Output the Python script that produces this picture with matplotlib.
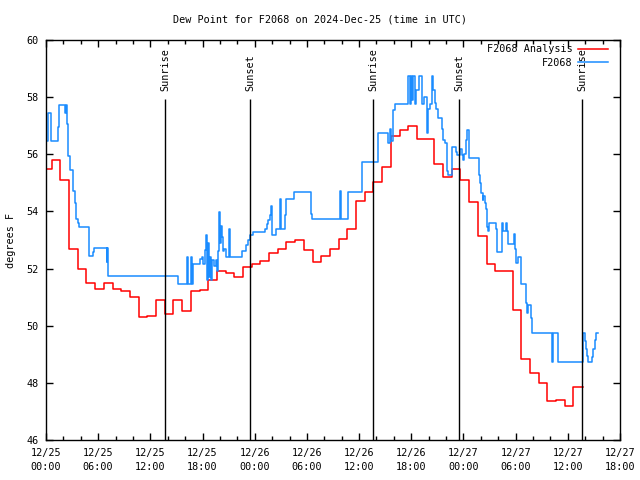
import numpy as np
import matplotlib
matplotlib.use("Agg")
import matplotlib.pyplot as plt
from matplotlib.ticker import MultipleLocator

# hours since 2024-12-25 00:00 UTC
title = "Dew Point for F2068 on 2024-Dec-25 (time in UTC)"
tick_hours = [0, 6, 12, 18, 24, 30, 36, 42, 48, 54, 60, 66]
tick_labels = ["12/25\n00:00", "12/25\n06:00", "12/25\n12:00", "12/25\n18:00",
               "12/26\n00:00", "12/26\n06:00", "12/26\n12:00", "12/26\n18:00",
               "12/27\n00:00", "12/27\n06:00", "12/27\n12:00", "12/27\n18:00"]

sun_hours = [13.68, 23.46, 37.6, 47.49, 61.63]
sun_names = ["Sunrise", "Sunset", "Sunrise", "Sunset", "Sunrise"]

# analysis: hourly values (step changes at hh:39)
ana_first = 0.65
ana_vals = [55.5, 55.8, 55.1, 52.7, 52.0, 51.5, 51.3, 51.5, 51.3, 51.2, 51.0,
            50.3, 50.33, 50.9, 50.4, 50.9, 50.5, 51.2, 51.25, 51.6, 51.9,
            51.85, 51.7, 52.05, 52.15, 52.25, 52.55, 52.7, 52.93, 53.0, 52.65,
            52.24, 52.43, 52.7, 53.05, 53.4, 54.36, 54.67, 55.04, 55.57, 56.64,
            56.85, 57.0, 56.53, 56.53, 55.66, 55.2, 55.47, 55.1, 54.33, 53.15,
            52.15, 51.9, 51.9, 50.54, 48.85, 48.35, 47.98, 47.37, 47.4, 47.19,
            47.84]
ana_end = 61.8

# station observations
obs_hours = [0.0, 0.23, 0.61, 1.35, 1.5, 2.18, 2.25, 2.45, 2.56, 2.72, 3.05,
             3.28, 3.45, 3.64, 3.83, 5.0, 5.4, 5.52, 6.98, 7.05, 7.13, 15.21,
             16.25, 16.35, 16.64, 16.75, 16.94, 17.71, 17.94, 18.09, 18.28,
             18.4, 18.5, 18.6, 18.7, 18.85, 19.0, 19.1, 19.3, 19.5, 19.7, 19.8,
             19.9, 20.0, 20.1, 20.2, 20.35, 20.5, 20.7, 21.05, 21.15, 22.5,
             22.99, 23.19, 23.46, 23.84, 25.18, 25.38, 25.57, 25.76, 25.9, 26.0,
             26.44, 26.9, 27.0, 27.48, 27.6, 28.52, 30.44, 30.55, 33.8, 33.92,
             34.78, 36.28, 38.21, 39.36, 39.5, 39.7, 39.92, 40.13, 41.66, 41.8,
             41.95, 42.1, 42.25, 42.45, 42.6, 42.85, 43.2, 43.5, 43.78, 43.9,
             44.2, 44.35, 44.55, 44.73, 44.9, 45.1, 45.5, 45.7, 45.9, 46.1,
             46.27, 46.68, 47.12, 47.27, 47.66, 47.85, 47.95, 48.05, 48.3, 48.4,
             48.66, 49.78, 49.9, 50.0, 50.2, 50.3, 50.42, 50.59, 50.67, 50.8,
             50.9, 51.06, 51.7, 51.89, 52.4, 52.59, 52.86, 52.97, 53.15, 53.81,
             53.93, 54.08, 54.24, 54.62, 55.19, 55.34, 55.46, 55.76, 55.84,
             58.15, 58.26, 58.85, 61.78, 61.92, 62.1, 62.25, 62.35, 62.82,
             62.95, 63.1, 63.25, 63.45]
obs_vals = [56.45, 57.45, 56.45, 56.94, 57.71, 57.45, 57.71, 57.05, 55.95,
            55.45, 54.73, 54.28, 53.73, 53.6, 53.45, 52.45, 52.59, 52.72, 52.24,
            52.72, 51.74, 51.45, 52.4, 51.45, 52.4, 51.45, 52.15, 52.35, 52.4,
            52.15, 52.65, 53.17, 51.6, 52.9, 51.7, 52.4, 51.6, 52.3, 52.1, 52.3,
            51.9, 52.6, 53.97, 52.9, 53.5, 53.1, 52.6, 52.7, 52.4, 53.38, 52.42,
            52.6, 52.83, 53.0, 53.17, 53.29, 53.38, 53.55, 53.7, 53.88, 54.2,
            53.17, 53.38, 54.42, 53.38, 53.88, 54.42, 54.69, 53.9, 53.72, 54.72,
            53.72, 54.69, 55.72, 56.73, 56.4, 56.9, 56.45, 57.55, 57.75, 58.74,
            57.75, 58.74, 57.9, 58.74, 57.75, 58.25, 58.74, 57.75, 58.0, 56.73,
            57.6, 57.75, 58.74, 58.25, 57.8, 57.6, 57.26, 56.9, 56.5, 56.38,
            55.4, 55.28, 56.27, 56.09, 55.97, 56.2, 55.97, 55.8, 56.0, 56.5,
            56.85, 55.86, 55.28, 55.0, 54.63, 54.4, 54.55, 54.28, 54.1, 53.47,
            53.3, 53.6, 53.58, 53.4, 52.59, 53.58, 53.3, 53.58, 53.3, 52.86,
            53.2, 52.7, 52.2, 52.42, 51.46, 50.78, 50.43, 50.72, 50.26, 49.73,
            48.72, 49.73, 48.72, 49.73, 49.45, 49.2, 48.95, 48.72, 48.9, 49.2,
            49.5, 49.73, 49.73]

plt.rcParams['font.family'] = ['DejaVu Sans Mono']
fs = 7.3

fig = plt.figure(figsize=(6.4, 4.8), dpi=100)
ax = fig.add_axes([46/640, 40/480, 574/640, 400/480])

ana_hours = [0.0] + list(ana_first + np.arange(len(ana_vals) - 1)) + [ana_end]
ax.plot(ana_hours, ana_vals + [ana_vals[-1]], drawstyle='steps-post',
        color='#ff0000', lw=1.1, label='F2068 Analysis')
ax.plot(obs_hours, obs_vals, drawstyle='steps-post',
        color='#1a8cff', lw=1.1, label='F2068')

ax.vlines(sun_hours, 46, 57.93, color='black', lw=1.0)
for t, name in zip(sun_hours, sun_names):
    ax.text(t, 58.2, name, rotation=90, ha='center', va='bottom', fontsize=fs)

ax.set_xlim(0, 66)
ax.set_ylim(46, 60)
ax.set_xticks(tick_hours)
ax.set_xticklabels(tick_labels, fontsize=fs, linespacing=1.5)
ax.xaxis.set_minor_locator(MultipleLocator(2))
ax.yaxis.set_major_locator(MultipleLocator(2))
ax.tick_params(axis='both', which='both', direction='in', top=True, right=True,
               labelsize=fs)
ax.tick_params(which='major', length=5, width=1)
ax.tick_params(which='minor', length=3, width=1)
ax.tick_params(axis='x', pad=6)
ax.tick_params(axis='y', pad=5)
for s in ax.spines.values():
    s.set_linewidth(1)

ax.set_ylabel("degrees F", fontsize=fs, labelpad=8)
fig.text(0.5, 1 - 20/480, title, ha='center', va='center', fontsize=fs)

ax.legend(loc='upper right', bbox_to_anchor=(1 - 8/574, 1.0), frameon=False,
          markerfirst=False, fontsize=fs, handlelength=3.0, borderaxespad=0,
          labelspacing=0.35, handletextpad=0.5)

fig.savefig("out.png", dpi=100)
